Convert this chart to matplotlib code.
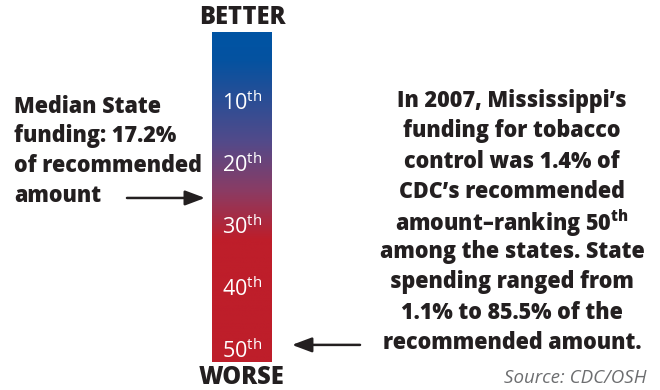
import numpy as np
import matplotlib
matplotlib.use('Agg')
import matplotlib.pyplot as plt
from matplotlib.colors import LinearSegmentedColormap
from matplotlib.transforms import blended_transform_factory

plt.rcParams['font.family'] = ['Open Sans', 'DejaVu Sans']
plt.rcParams['mathtext.fontset'] = 'custom'
plt.rcParams['mathtext.rm'] = 'Open Sans'
plt.rcParams['mathtext.bf'] = 'Open Sans:heavy'

# data
ranks = [10, 20, 30, 40, 50]
rank_labels = ['10', '20', '30', '40', '50']
median_rank = 25.8          # median state position on the scale
ms_rank = 50                # Mississippi
rank_top, rank_bottom = -0.97, 52.26

left_lines = ['Median State', 'funding: 17.2%', 'of recommended', 'amount']
right_lines = ["In 2007, Mississippi\u2019s",
               'funding for tobacco',
               'control was 1.4% of',
               'CDC\u2019s recommended',
               'amount\u2013ranking 50$^{\\mathbf{th}}$',
               'among the states. State',
               'spending ranged from',
               '1.1% to 85.5% of the',
               'recommended amount.']

dark = '#231f20'

fig = plt.figure(figsize=(6.6, 3.9), dpi=100)
bg = fig.add_axes([0, 0, 1, 1])
bg.set_xlim(0, 660)
bg.set_ylim(390, 0)
bg.axis('off')

# gradient bar
bar = fig.add_axes([212/660, (390-362)/390, 60/660, 330/390])
stops = [(0.0, (0/255, 84/255, 164/255)),
         (0.085, (5/255, 82/255, 160/255)),
         (0.33, (82/255, 74/255, 138/255)),
         (0.48, (138/255, 60/255, 100/255)),
         (0.63, (190/255, 30/255, 42/255)),
         (1.0, (190/255, 30/255, 42/255))]
cmap = LinearSegmentedColormap.from_list('betterworse', stops)
grad = np.linspace(0, 1, 400).reshape(-1, 1)
bar.imshow(grad, cmap=cmap, aspect='auto', extent=[0, 1, rank_bottom, rank_top])
bar.set_xlim(0, 1)
bar.set_ylim(rank_bottom, rank_top)
bar.axis('off')

for r, lab in zip(ranks, rank_labels):
    bar.text(0.5, r + 0.45, lab + '$^{\\mathrm{th}}$', color='white', fontsize=15.5,
             ha='center', va='center')

bg.text(242, 18, 'BETTER', fontsize=17, fontweight='heavy', color=dark,
        ha='center', va='center')
bg.text(242, 377, 'WORSE', fontsize=17, fontweight='heavy', color=dark,
        ha='center', va='center')

# left text
for i, line in enumerate(left_lines):
    bg.text(14, 107 + i*29.5, line, fontsize=15.5, fontweight='heavy', color=dark,
            ha='left', va='center')

# right text
for i, line in enumerate(right_lines):
    bg.text(512, 101 + i*30.25, line, fontsize=15.5, fontweight='heavy', color=dark,
            ha='center', va='center')

bg.text(647, 378, 'Source: CDC/OSH', fontsize=13.5, fontstyle='italic',
        color='#6d6e70', ha='right', va='center')

# arrows
trans = blended_transform_factory(bar.transAxes, bar.transData)
arrow = dict(arrowstyle='-|>,head_length=1.2,head_width=0.45', color=dark,
             lw=1.8, shrinkA=0, shrinkB=0)
bar.annotate('', xy=(-0.117, median_rank), xytext=(-1.417, median_rank),
             xycoords=trans, textcoords=trans, arrowprops=arrow,
             annotation_clip=False)
bar.annotate('', xy=(1.333, ms_rank - 0.5), xytext=(2.467, ms_rank - 0.5),
             xycoords=trans, textcoords=trans, arrowprops=arrow,
             annotation_clip=False)

fig.savefig('out.png', dpi=100)
